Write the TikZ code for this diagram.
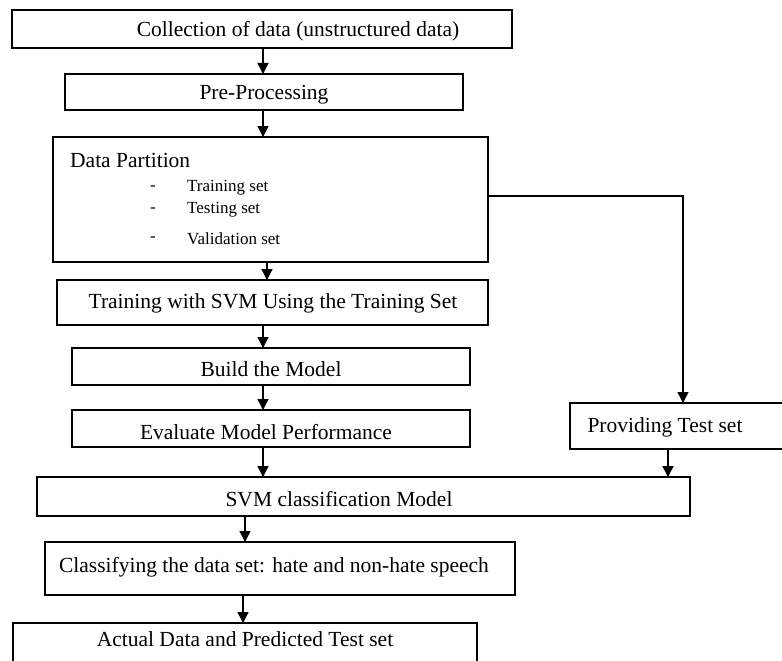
\documentclass[tikz,border=0pt]{standalone}
\usepackage{fontspec}
\setmainfont{Liberation Serif}
\usetikzlibrary{arrows.meta}
\begin{document}
\begin{tikzpicture}[x=1pt,y=-1pt,
  box/.style={draw, line width=1.5pt, inner sep=0pt, outer sep=0pt},
  txt/.style={inner sep=0pt, font=\fontsize{21.5}{24}\selectfont},
  small/.style={inner sep=0pt, font=\fontsize{17}{20}\selectfont, anchor=west},
  arr/.style={line width=1.5pt, -{Triangle[width=11pt,length=11pt]}}]
\useasboundingbox (0,0) rectangle (782,661);
\clip (0,0) rectangle (782,661);
% boxes
\node[box, minimum width=500pt, minimum height=38pt] (c1) at (262,29) {};
\node[box, minimum width=398pt, minimum height=36pt] (pre) at (264,92) {};
\node[box, minimum width=435pt, minimum height=125pt] (dp) at (270.5,199.5) {};
\node[box, minimum width=431pt, minimum height=45pt] (train) at (272.5,302.5) {};
\node[box, minimum width=398pt, minimum height=37pt] (build) at (271,366.5) {};
\node[box, minimum width=398pt, minimum height=37pt] (eval) at (271,428.5) {};
\node[box, minimum width=230pt, minimum height=46pt] (prov) at (685,426) {};
\node[box, minimum width=653pt, minimum height=39pt] (svm) at (363.5,496.5) {};
\node[box, minimum width=470pt, minimum height=53pt] (cls) at (280,568.5) {};
\node[box, minimum width=464pt, minimum height=77pt] (act) at (245,661.5) {};
% texts
\node[txt] (t1) at (298,31) {Collection of data (unstructured data)};
\node[txt] (t2) at (264,95) {Pre-Processing};
\node[txt, anchor=west] (t3) at (70,160) {Data Partition};
\node[small] (d1) at (150,188) {-};
\node[small] (d2) at (150,210) {-};
\node[small] (d3) at (150,239) {-};
\node[small] (b1) at (187,188) {Training set};
\node[small] (b2) at (187,210) {Testing set};
\node[small] (b3) at (187,239) {Validation set};
\node[txt] (t4) at (273,303) {Training with SVM Using the Training Set};
\node[txt] (t5) at (271,369) {Build the Model};
\node[txt] (t6) at (266,432) {Evaluate Model Performance};
\node[txt] (t7) at (665,427) {Providing Test set};
\node[txt] (t8) at (339,499) {SVM classification Model};
\node[txt] (t9) at (274,567) {Classifying the data set: hate and non-hate speech};
\node[txt] (t10) at (245,639) {Actual Data and Predicted Test set};
% connectors
\coordinate (j) at (683,196);
\draw[arr] (c1.south -| 263,0) -- (pre.north -| 263,0);
\draw[arr] (pre.south -| 263,0) -- (dp.north -| 263,0);
\draw[arr] (dp.south -| 267,0) -- (train.north -| 267,0);
\draw[arr] (train.south -| 263,0) -- (build.north -| 263,0);
\draw[arr] (build.south -| 263,0) -- (eval.north -| 263,0);
\draw[arr] (eval.south -| 263,0) -- (svm.north -| 263,0);
\draw[arr] (dp.east |- j) -- (j) -- (prov.north -| j);
\draw[arr] (prov.south -| 668,0) -- (svm.north -| 668,0);
\draw[arr] (svm.south -| 245,0) -- (cls.north -| 245,0);
\draw[arr] (cls.south -| 243,0) -- (act.north -| 243,0);
\end{tikzpicture}
\end{document}
